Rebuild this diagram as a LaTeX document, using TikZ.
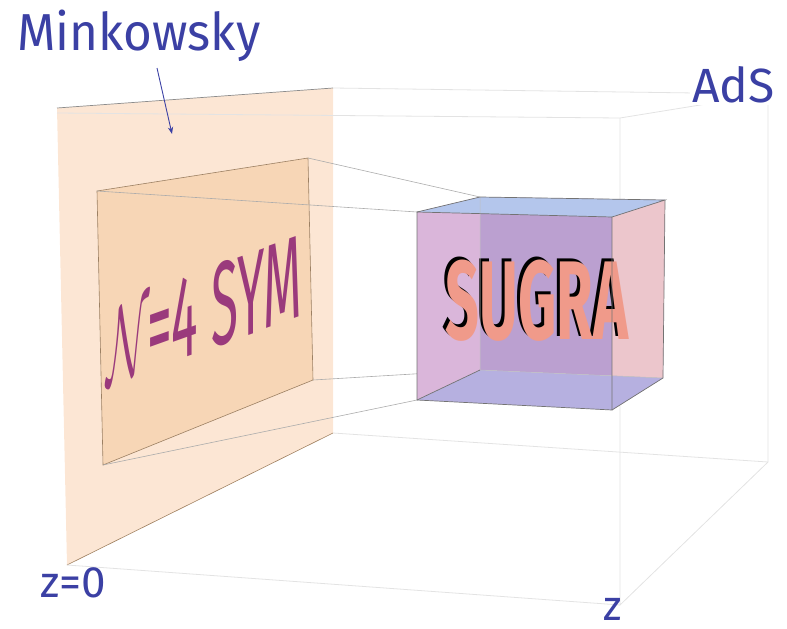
\documentclass[tikz,border=0pt]{standalone}
\usepackage{graphicx}
\usepackage{fontspec}
\setmainfont{Fira Sans}
\usepackage{xcolor}
\usetikzlibrary{arrows.meta,calc}
\definecolor{labelblue}{HTML}{3B40A4}
\definecolor{symcolor}{HTML}{9A3A7C}
\definecolor{sugracolor}{HTML}{F09A8A}
\definecolor{planeout}{HTML}{FCE6D4}
\definecolor{planein}{HTML}{F7D6B6}
\definecolor{cubeback}{HTML}{BBA0D0}
\definecolor{cubeleft}{HTML}{DAB6DA}
\definecolor{cuberight}{HTML}{ECC6CC}
\definecolor{cubecorner}{HTML}{DED6D6}
\definecolor{cubebottom}{HTML}{B6B0E0}
\definecolor{cubetop}{HTML}{B4C6EC}

\begin{document}
\begin{tikzpicture}[x=1pt, y=-1pt, >=Stealth,
  lbl/.style={text=labelblue, inner sep=0pt, anchor=base west},
  adsline/.style={draw=gray!22, line width=0.8pt},
  projline/.style={draw=gray!65, line width=0.6pt},
  cubeedge/.style={draw=black!55, line width=0.7pt},
  backedge/.style={draw=black!25, line width=0.5pt}]

  \useasboundingbox (0,0) rectangle (787,629);

  % Minkowsky plane
  \coordinate (pTL) at (57,108);
  \coordinate (pTR) at (333,88);
  \coordinate (pBR) at (333,433);
  \coordinate (pBL) at (67,565);
  \fill[planeout] (pTL) -- (pTR) -- (pBR) -- (pBL) -- cycle;
  \draw[draw=black!45, line width=0.7pt] (pTL) -- (pTR);
  \draw[draw=brown!50!gray, line width=0.6pt] (pBL) -- (pBR);

  % boundary window
  \coordinate (bTL) at (97,191);
  \coordinate (bTR) at (308,158);
  \coordinate (bBR) at (313,380);
  \coordinate (bBL) at (103,465);
  \filldraw[fill=planein, draw=brown!45!gray, line width=0.6pt]
    (bTL) -- (bTR) -- (bBR) -- (bBL) -- cycle;

  % AdS box
  \coordinate (aFTL) at (57,113);
  \coordinate (aFTR) at (620,118);
  \coordinate (aFBR) at (620,605);
  \coordinate (aBTR) at (768,94);
  \coordinate (aBBR) at (768,462);
  \draw[adsline] (aFTL) -- (aFTR) -- (aBTR) -- (pTR);
  \draw[adsline] (aFTR) -- (aFBR) -- (aBBR) -- (aBTR);
  \draw[adsline] (pBL) -- (aFBR);
  \draw[adsline] (pBR) -- (aBBR);

  % SUGRA cube
  \coordinate (cFTL) at (417,212);
  \coordinate (cFTR) at (612,217);
  \coordinate (cFBR) at (612,410);
  \coordinate (cFBL) at (417,400);
  \coordinate (cBTL) at (480,197);
  \coordinate (cBTR) at (665,200);
  \coordinate (cBBR) at (663,378);
  \coordinate (cBBL) at (480,370);

  % projection lines
  \draw[projline] (bTL) -- (cFTL);
  \draw[projline] (bTR) -- (cBTL);
  \draw[projline] (bBR) -- (cBBL);
  \draw[projline] (bBL) -- (cFBL);

  \fill[cubeback] (cBTL) -- (cBTR) -- (cBBR) -- (cBBL) -- cycle;
  \fill[cubeleft] (cFTL) -- (cBTL) -- (cBBL) -- (cFBL) -- cycle;
  \fill[cuberight] (cFTR) -- (cBTR) -- (cBBR) -- (cFBR) -- cycle;
  \fill[cubecorner] (cFBR) -- (cBBR) -- ($(cFBR)!0.5!(cBBR)+(0,-8)$) -- cycle;
  \fill[cubebottom] (cFBL) -- (cFBR) -- (cBBR) -- (cBBL) -- cycle;
  \fill[cubetop] (cFTL) -- (cFTR) -- (cBTR) -- (cBTL) -- cycle;

  % texts
  \node[text=black, inner sep=0pt, xscale=0.53] (sugraShadow) at (534,298)
    {\fontsize{112}{112}\selectfont\bfseries SUGRA};
  \node[text=sugracolor, inner sep=0pt, xscale=0.53] (sugra) at (537,301)
    {\fontsize{112}{112}\selectfont\bfseries SUGRA};
  \node[text=symcolor, inner sep=0pt, anchor=base west, xscale=0.42, yslant=0.15]
    (sym) at (106,386)
    {\fontsize{118}{118}\selectfont\scalebox{4.3}{$\mathcal{N}$}\kern-6pt=4 SYM};

  \draw[backedge] (cBTL) -- (cBBL) -- (cBBR);
  \draw[cubeedge] (cFTL) -- (cFTR) -- (cFBR) -- (cFBL) -- cycle;
  \draw[cubeedge] (cFTL) -- (cBTL) -- (cBTR) -- (cFTR);
  \draw[cubeedge] (cBTR) -- (cBBR) -- (cFBR);
  \draw[cubeedge] (cFBL) -- (cBBL);

  % labels
  \node[lbl, xscale=0.95] (mink) at (17,50) {\fontsize{52}{60}\selectfont Minkowsky};
  \node[lbl, fill=white, inner sep=2pt] (ads) at (690,102) {\fontsize{48}{54}\selectfont AdS};
  \node[lbl] (zzero) at (40,597) {\fontsize{44}{50}\selectfont z=0};
  \node[lbl] (zend) at (603,620) {\fontsize{42}{48}\selectfont z};

  \coordinate (minkTail) at (157,68);
  \coordinate (minkTip) at (172,134);
  \draw[->, labelblue, line width=0.9pt] (minkTail) -- (minkTip);
\end{tikzpicture}
\end{document}
